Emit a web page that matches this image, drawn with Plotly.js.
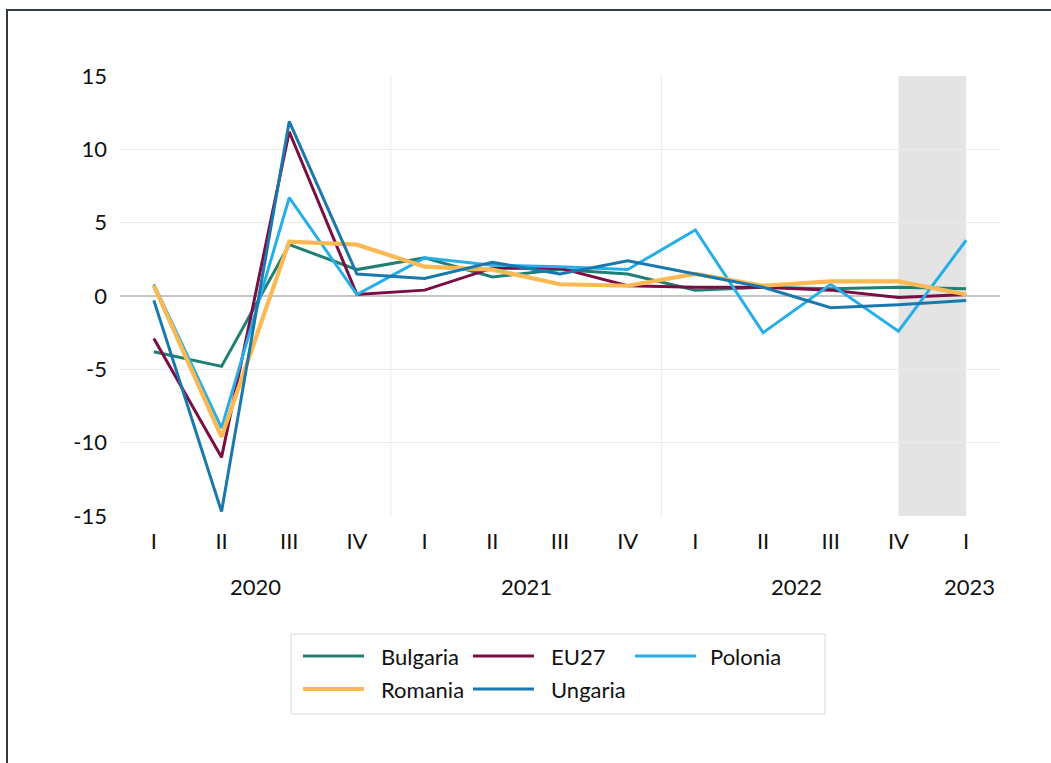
<!DOCTYPE html>
<html>
<head>
<meta charset="utf-8">
<script src="https://cdn.plot.ly/plotly-3.0.1.min.js"></script>
<style>
  html, body { margin: 0; padding: 0; background: #ffffff; overflow: hidden; }
  #frame { position: absolute; left: 6px; top: 9px; width: 1100px; height: 800px;
           border-top: 2px solid #2f3a44; border-left: 2px solid #2f3a44; pointer-events: none; }
  #chart { position: absolute; left: 0; top: 0; width: 1051px; height: 763px; }
</style>
</head>
<body>
<div id="chart"></div>
<div id="frame"></div>
<script>
// ---- data ----
const quarters = ["I", "II", "III", "IV", "I", "II", "III", "IV", "I", "II", "III", "IV", "I"];
const years = ["2020", "2021", "2022", "2023"];
const yearStart = [0, 4, 8, 12];
const yearEnd = [3, 7, 11, 12];

const seriesNames = ["Bulgaria", "EU27", "Polonia", "Romania", "Ungaria"];
const bulgaria = [-3.8, -4.8, 3.5, 1.8, 2.6, 1.3, 1.8, 1.5, 0.4, 0.6, 0.5, 0.6, 0.5];
const eu27     = [-2.9, -11.0, 11.2, 0.1, 0.4, 1.9, 1.9, 0.7, 0.6, 0.6, 0.4, -0.1, 0.1];
const polonia  = [0.8, -9.0, 6.7, 0.1, 2.6, 2.1, 2.0, 1.8, 4.5, -2.5, 0.8, -2.4, 3.8];
const romania  = [0.7, -9.6, 3.7, 3.5, 2.0, 1.8, 0.8, 0.7, 1.5, 0.7, 1.0, 1.0, 0.1];
const ungaria  = [-0.3, -14.7, 11.9, 1.5, 1.2, 2.3, 1.5, 2.4, 1.5, 0.6, -0.8, -0.6, -0.3];
const seriesValues = [bulgaria, eu27, polonia, romania, ungaria];

// ---- styles ----
const colors = ["#1f7f72", "#7c0d44", "#26aee8", "#fbb954", "#1b78ad"];
const widths = [3, 3, 3, 4.2, 3];
const FONT = "Lato, 'Open Sans', sans-serif";
const TXT = "#111111";

const xIdx = quarters.map((q, i) => i);

const traces = seriesNames.map((name, s) => ({
  type: "scatter",
  mode: "lines",
  name: name,
  x: xIdx,
  y: seriesValues[s],
  line: { color: colors[s], width: widths[s] },
  showlegend: false,
  hoverinfo: "x+y+name"
}));

// plot area geometry (px) used to convert the custom legend positions to paper coords
const L = 120, R = 1000, T = 76, B = 516;
const px = v => (v - L) / (R - L);
const py = v => (B - v) / (B - T);

const shapes = [];
const annotations = [];

// grey highlighted period (last two quarters)
shapes.push({ type: "rect", xref: "x", yref: "paper", x0: 11, x1: 12, y0: 0, y1: 1,
  fillcolor: "#e4e4e4", line: { width: 0 }, layer: "below" });
// vertical separators between years
[3.5, 7.5].forEach(v => shapes.push({ type: "line", xref: "x", yref: "paper", x0: v, x1: v, y0: 0, y1: 1,
  line: { color: "#ebebeb", width: 1 }, layer: "below" }));

// year labels
years.forEach((yr, i) => annotations.push({
  xref: "x", yref: "paper", x: (yearStart[i] + yearEnd[i]) / 2 + (yearStart[i] === yearEnd[i] ? 0.05 : 0),
  y: py(586), text: yr, showarrow: false, xanchor: "center", yanchor: "middle",
  font: { family: FONT, size: 22, color: TXT }
}));

// custom legend
shapes.push({ type: "rect", xref: "paper", yref: "paper", x0: px(291), x1: px(825), y0: py(634), y1: py(714),
  line: { color: "#d9d9d9", width: 1 }, fillcolor: "rgba(0,0,0,0)" });
const legPos = [[303, 656], [473, 656], [635, 656], [303, 689], [473, 689]];
const legTextX = [381, 551, 710, 381, 551];
seriesNames.forEach((name, s) => {
  const [lx, ly] = legPos[s];
  shapes.push({ type: "line", xref: "paper", yref: "paper", x0: px(lx), x1: px(lx + 61), y0: py(ly), y1: py(ly),
    line: { color: colors[s], width: widths[s] } });
  annotations.push({ xref: "paper", yref: "paper", x: px(legTextX[s] - 2), y: py(ly), text: name,
    showarrow: false, xanchor: "left", yanchor: "middle", font: { family: FONT, size: 22, color: TXT } });
});

const layout = {
  width: 1051, height: 763,
  margin: { l: L, r: 1051 - R, t: T, b: 763 - B, pad: 0 },
  paper_bgcolor: "#ffffff",
  plot_bgcolor: "rgba(0,0,0,0)",
  showlegend: false,
  font: { family: FONT, size: 22, color: TXT },
  xaxis: {
    range: [-0.5, 12.5],
    tickmode: "array",
    tickvals: xIdx,
    ticktext: quarters,
    showgrid: false,
    zeroline: false,
    showline: false,
    ticks: "",
    ticklabelstandoff: 10,
    tickfont: { family: FONT, size: 22, color: TXT },
    fixedrange: true
  },
  yaxis: {
    range: [-15, 15],
    tickmode: "array",
    tickvals: [-15, -10, -5, 0, 5, 10, 15],
    ticktext: ["-15", "-10", "-5", "0", "5", "10", "15"],
    showgrid: true,
    gridcolor: "#ebebeb",
    gridwidth: 1,
    zeroline: true,
    zerolinecolor: "#c4c4c4",
    zerolinewidth: 1.5,
    showline: false,
    ticks: "",
    ticklabelstandoff: 12,
    tickfont: { family: FONT, size: 22, color: TXT },
    fixedrange: true
  },
  shapes: shapes,
  annotations: annotations
};

Plotly.newPlot("chart", traces, layout, { displayModeBar: false, staticPlot: true });
</script>
</body>
</html>
